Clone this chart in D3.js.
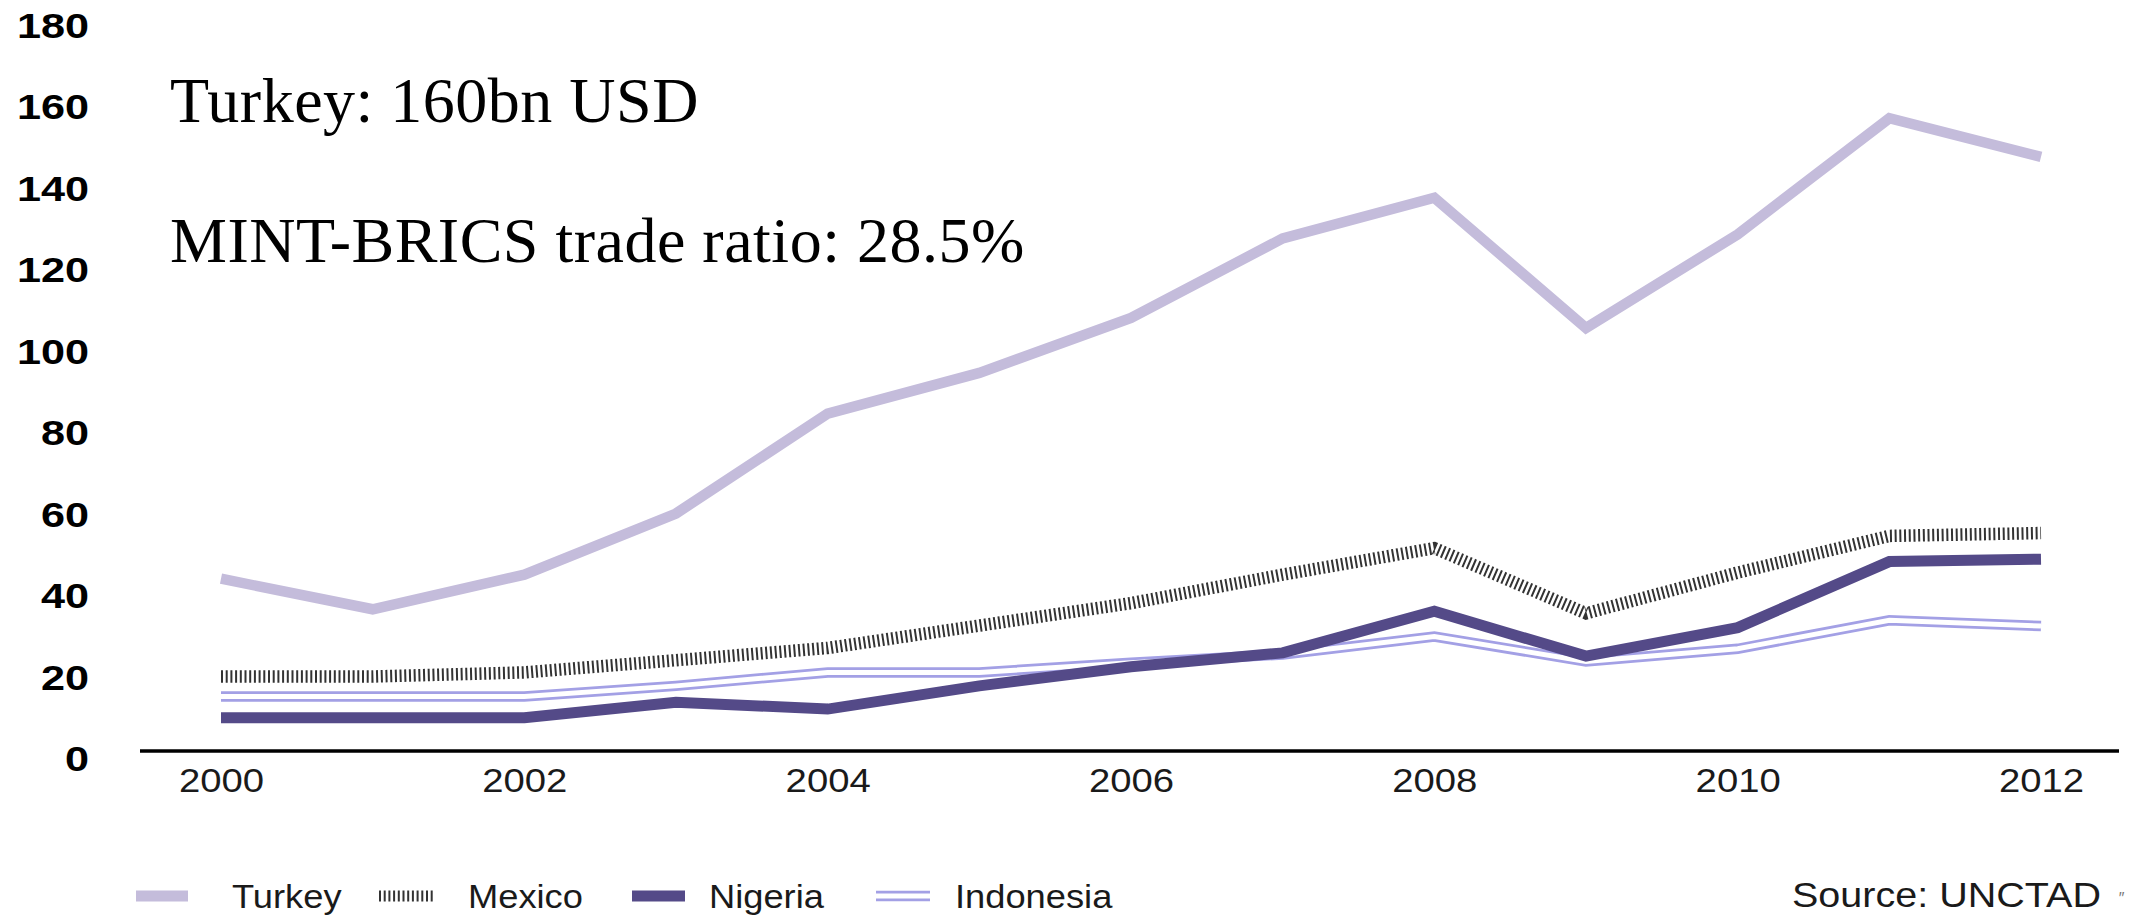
<!DOCTYPE html>
<html>
<head>
<meta charset="utf-8">
<script src="https://cdn.jsdelivr.net/npm/d3@7"></script>
<style>
  body { margin: 0; background: #fff; }
  svg { display: block; }
</style>
</head>
<body>
<svg id="chart" width="2139" height="917"></svg>
<script>
// data (bn USD)
var years = [2000, 2001, 2002, 2003, 2004, 2005, 2006, 2007, 2008, 2009, 2010, 2011, 2012];
var turkey    = [44, 36.5, 45, 60, 84.5, 94.5, 108, 127.5, 137.5, 105.5, 128.5, 157, 147.5];
var mexico    = [20, 20, 21, 24, 27, 32.5, 38, 45, 51.5, 35.5, 45.5, 54.5, 55.2];
var nigeria   = [9.9, 9.9, 9.9, 13.7, 12, 17.7, 22.4, 25.8, 36, 25, 32, 48.2, 48.8];
var indonesia = [15.1, 15.1, 15.1, 17.7, 21, 21, 23.4, 25.4, 29.8, 23.7, 26.8, 33.8, 32.4];
var yTicks = [0, 20, 40, 60, 80, 100, 120, 140, 160, 180];
var xTicks = [2000, 2002, 2004, 2006, 2008, 2010, 2012];
var titleLines = ['Turkey: 160bn USD', 'MINT-BRICS trade ratio: 28.5%'];
var legendNames = ['Turkey', 'Mexico', 'Nigeria', 'Indonesia'];

var svg = d3.select('#chart');

var x = d3.scaleLinear().domain([2000, 2012]).range([221, 2041]);
var y = d3.scaleLinear().domain([0, 180]).range([758, 24.5]);

var line = d3.line()
  .x(function(d, i) { return x(years[i]); })
  .y(function(d) { return y(d); });

// y axis, labels only
var yAxis = svg.append('g')
  .attr('transform', 'translate(89,0)')
  .call(d3.axisLeft(y).tickValues(yTicks).tickSize(0).tickPadding(0).tickFormat(d3.format('d')));
yAxis.select('.domain').remove();
yAxis.selectAll('text')
  .attr('x', 0)
  .attr('dy', '0.36em')
  .attr('transform', 'scale(1.2,1)')
  .style('font-family', '"Liberation Sans", Arial, sans-serif')
  .style('font-weight', 'bold')
  .style('font-size', '36px')
  .style('fill', '#000');

// baseline
var axisY = y(0) - 7;
svg.append('line')
  .attr('x1', x(2000) - 81).attr('x2', x(2012) + 78)
  .attr('y1', axisY).attr('y2', axisY)
  .attr('stroke', '#000').attr('stroke-width', 3.5);

// x axis labels
var xAxis = svg.append('g')
  .attr('transform', 'translate(0,769)')
  .call(d3.axisBottom(x).tickValues(xTicks).tickSize(0).tickPadding(0).tickFormat(d3.format('d')));
xAxis.select('.domain').remove();
xAxis.selectAll('text')
  .attr('x', 0)
  .attr('y', 0)
  .attr('dy', '0.71em')
  .attr('transform', 'scale(1.16,1)')
  .style('font-family', '"Liberation Sans", Arial, sans-serif')
  .style('font-size', '33px')
  .style('fill', '#1a1a1a');

// lines
var g = svg.append('g').attr('fill', 'none');

g.append('path').datum(turkey)
  .attr('d', line)
  .attr('stroke', '#c4bcdb').attr('stroke-width', 10.5)
  .attr('stroke-linejoin', 'miter');

g.append('path').datum(mexico)
  .attr('d', line)
  .attr('stroke', '#333').attr('stroke-width', 12.5)
  .attr('stroke-dasharray', '2,2.7');

g.append('path').datum(indonesia)
  .attr('d', line)
  .attr('stroke', '#a3a0e5').attr('stroke-width', 10.5);
g.append('path').datum(indonesia)
  .attr('d', line)
  .attr('stroke', '#fff').attr('stroke-width', 5);

g.append('path').datum(nigeria)
  .attr('d', line)
  .attr('stroke', '#544a88').attr('stroke-width', 11)
  .attr('stroke-linejoin', 'miter');

// title text
svg.selectAll('.title')
  .data(titleLines)
  .enter().append('text')
  .attr('class', 'title')
  .attr('x', 170)
  .attr('y', function(d, i) { return 122 + i * 140; })
  .style('font-family', '"Liberation Serif", "Times New Roman", serif')
  .style('font-size', '64px')
  .style('letter-spacing', '0.5px')
  .style('fill', '#000')
  .text(function(d) { return d; });

// legend
var legendX = [136, 379, 632, 876];
var legendTextOffset = [96, 89, 77, 79];
var legY = 896;
var leg = svg.append('g');
legendNames.forEach(function(name, i) {
  var item = leg.append('g').attr('transform', 'translate(' + legendX[i] + ',' + legY + ')');
  if (name === 'Turkey') {
    item.append('line').attr('x1', 0).attr('x2', 52).attr('stroke', '#c4bcdb').attr('stroke-width', 11);
  } else if (name === 'Mexico') {
    item.append('line').attr('x1', 0).attr('x2', 54).attr('stroke', '#333').attr('stroke-width', 11).attr('stroke-dasharray', '2,2.7');
  } else if (name === 'Nigeria') {
    item.append('line').attr('x1', 0).attr('x2', 53).attr('stroke', '#544a88').attr('stroke-width', 11);
  } else {
    item.append('line').attr('x1', 0).attr('x2', 54).attr('stroke', '#a3a0e5').attr('stroke-width', 10.5);
    item.append('line').attr('x1', 0).attr('x2', 54).attr('stroke', '#fff').attr('stroke-width', 5);
  }
  item.append('text')
    .attr('x', legendTextOffset[i] / 1.1)
    .attr('y', 12)
    .attr('transform', 'scale(1.1,1)')
    .style('font-family', '"Liberation Sans", Arial, sans-serif')
    .style('font-size', '33px')
    .style('fill', '#1a1a1a')
    .text(name);
});

// source note
svg.append('text')
  .attr('x', 2101 / 1.13)
  .attr('y', 907)
  .attr('transform', 'scale(1.13,1)')
  .attr('text-anchor', 'end')
  .style('font-family', '"Liberation Sans", Arial, sans-serif')
  .style('font-size', '35px')
  .style('fill', '#1a1a1a')
  .text('Source: UNCTAD');
svg.append('text')
  .attr('x', 2118)
  .attr('y', 904)
  .style('font-family', '"Liberation Sans", Arial, sans-serif')
  .style('font-size', '16px')
  .style('font-style', 'italic')
  .style('fill', '#777')
  .text('\u2033');
</script>
</body>
</html>
